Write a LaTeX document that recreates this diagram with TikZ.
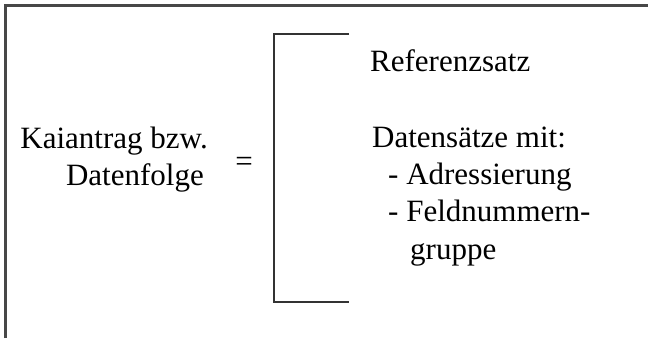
\documentclass[tikz,border=0pt]{standalone}
\usepackage{fontspec}
\setmainfont{Liberation Serif}
\begin{document}
\begin{tikzpicture}[x=1pt,y=-1pt,
  txt/.style={inner sep=0pt, font=\fontsize{31}{37}\selectfont, text=black},
  frameline/.style={line width=2.6pt, draw=black!72},
  bracketline/.style={line width=2.2pt, draw=black!80}]
\useasboundingbox (0,0) rectangle (648,338);
% partial outer frame
\draw[frameline] (5.5,338) -- (5.5,5.5) -- (648,5.5);
% left text
\node[txt, anchor=base east] (l1) at (208,148) {Kaiantrag bzw.};
\node[txt, anchor=base east] (l2) at (204,185) {Datenfolge};
\node[txt, anchor=base] (eq) at (244,171) {=};
% bracket
\draw[bracketline] (349,34) -- (274,34) -- (274,302) -- (349,302);
% right text
\node[txt, anchor=base west] (r1) at (370,71) {Referenzsatz};
\node[txt, anchor=base west] (r2) at (372,147) {Datensätze mit:};
\node[txt, anchor=base west] (r3) at (388,184) {- Adressierung};
\node[txt, anchor=base west] (r4) at (388,221) {- Feldnummern-};
\node[txt, anchor=base west] (r5) at (410,259) {gruppe};
\end{tikzpicture}
\end{document}
